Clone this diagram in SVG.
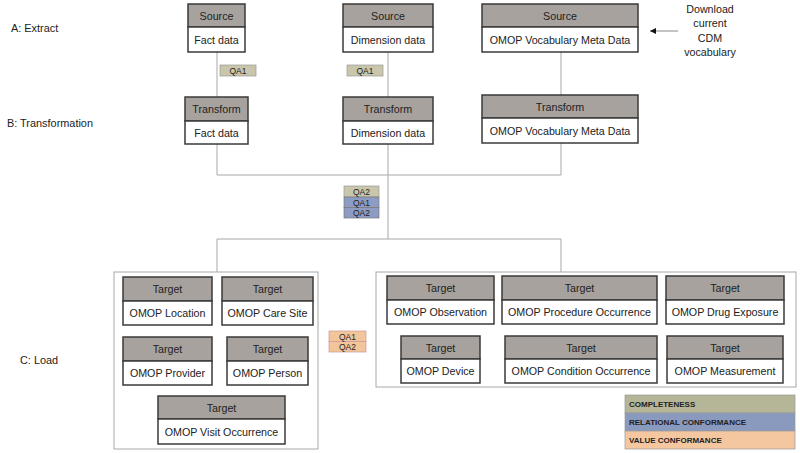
<svg xmlns="http://www.w3.org/2000/svg" width="800" height="453" viewBox="0 0 800 453">
<style>
text{font-family:"Liberation Sans",Arial,sans-serif;fill:#222;}
.t{font-size:10.7px;text-anchor:middle;}
.lbl{font-size:10.9px;}
.hd{fill:#A7A29E;stroke:#3a3a3a;stroke-width:1.5;}
.bd{fill:#fff;stroke:#3a3a3a;stroke-width:1.5;}
.grp{fill:#fff;stroke:#a8a8a8;stroke-width:1;}
.ln{fill:none;stroke:#a8a8a8;stroke-width:1;}
.qa{font-size:8.5px;text-anchor:middle;}
.kh{fill:#C9C6AB;stroke:#999;stroke-width:0.7;}
.bl{fill:#8D9CC3;stroke:#777;stroke-width:0.7;}
.or{fill:#F3C59B;stroke:#c99;stroke-width:0.7;}
.lg{font-size:8px;font-weight:bold;}
</style>
<defs>
<marker id="ah" viewBox="0 0 10 10" refX="10" refY="5" markerWidth="8" markerHeight="6" orient="auto" markerUnits="userSpaceOnUse">
<path d="M0,0 L10,5 L0,10 z" fill="#111"/>
</marker>
</defs>
<rect width="800" height="453" fill="#fff"/>

<g id="stage-labels">
<text class="lbl" x="11" y="32">A: Extract</text>
<text class="lbl" x="7" y="127">B: Transformation</text>
<text class="lbl" x="20" y="364">C: Load</text>
</g>

<g id="groups">
<rect class="grp" x="114" y="272" width="204" height="177"/>
<rect class="grp" x="376" y="272" width="420" height="115"/>
</g>

<g id="connectors">
<path class="ln" d="M217,52 V97 M388,52 V97 M561,52 V95"/>
<path class="ln" d="M217,144 V175 H561 V143 M388,144 V175 M388,175 V239 M217,272 V239 H561 V272"/>
<path d="M678,31 H650" stroke="#888" stroke-width="1" marker-end="url(#ah)"/>
</g>

<g id="download-note">
<text class="t" x="710" y="13">Download</text>
<text class="t" x="710" y="27">current</text>
<text class="t" x="710" y="42">CDM</text>
<text class="t" x="710" y="56">vocabulary</text>
</g>

<g id="src-fact">
<rect class="hd" x="188" y="4" width="57" height="23"/>
<rect class="bd" x="188" y="27" width="57" height="25"/>
<text class="t" x="216.5" y="19.5">Source</text>
<text class="t" x="216.5" y="43.5">Fact data</text>
</g>
<g id="src-dim">
<rect class="hd" x="343" y="4" width="90" height="23"/>
<rect class="bd" x="343" y="27" width="90" height="25"/>
<text class="t" x="388" y="19.5">Source</text>
<text class="t" x="388" y="43.5">Dimension data</text>
</g>
<g id="src-omop">
<rect class="hd" x="482" y="4" width="156" height="23"/>
<rect class="bd" x="482" y="27" width="156" height="25"/>
<text class="t" x="560" y="19.5">Source</text>
<text class="t" x="560" y="43.5">OMOP Vocabulary Meta Data</text>
</g>

<g id="qa1-fact">
<rect class="kh" x="220" y="65" width="36" height="11"/>
<text class="qa" x="238" y="74">QA1</text>
</g>
<g id="qa1-dim">
<rect class="kh" x="347" y="65" width="36" height="11"/>
<text class="qa" x="365" y="74">QA1</text>
</g>

<g id="tr-fact">
<rect class="hd" x="185" y="97" width="63" height="24"/>
<rect class="bd" x="185" y="121" width="63" height="23"/>
<text class="t" x="216.5" y="112.5">Transform</text>
<text class="t" x="216.5" y="136.5">Fact data</text>
</g>
<g id="tr-dim">
<rect class="hd" x="343" y="97" width="90" height="24"/>
<rect class="bd" x="343" y="121" width="90" height="23"/>
<text class="t" x="388" y="112.5">Transform</text>
<text class="t" x="388" y="136.5">Dimension data</text>
</g>
<g id="tr-omop">
<rect class="hd" x="482" y="95" width="156" height="23"/>
<rect class="bd" x="482" y="118" width="156" height="25"/>
<text class="t" x="560" y="110.5">Transform</text>
<text class="t" x="560" y="134.5">OMOP Vocabulary Meta Data</text>
</g>

<g id="qa-stack">
<rect class="kh" x="344" y="186" width="35" height="11"/>
<rect class="bl" x="344" y="197" width="35" height="10.5"/>
<rect class="bl" x="344" y="207.5" width="35" height="10.5"/>
<text class="qa" x="361.5" y="195">QA2</text>
<text class="qa" x="361.5" y="205.5">QA1</text>
<text class="qa" x="361.5" y="216">QA2</text>
</g>

<g id="qa-load">
<rect class="or" x="329" y="331" width="37" height="10.5"/>
<rect class="or" x="329" y="341.5" width="37" height="10.5"/>
<text class="qa" x="347.5" y="339.5">QA1</text>
<text class="qa" x="347.5" y="350">QA2</text>
</g>

<g id="t-location">
<rect class="hd" x="123" y="277" width="89" height="24"/>
<rect class="bd" x="123" y="301" width="89" height="24"/>
<text class="t" x="167.5" y="292.5">Target</text>
<text class="t" x="167.5" y="316.5">OMOP Location</text>
</g>
<g id="t-caresite">
<rect class="hd" x="222" y="277" width="91" height="24"/>
<rect class="bd" x="222" y="301" width="91" height="24"/>
<text class="t" x="267.5" y="292.5">Target</text>
<text class="t" x="267.5" y="316.5">OMOP Care Site</text>
</g>
<g id="t-provider">
<rect class="hd" x="123" y="337" width="89" height="24"/>
<rect class="bd" x="123" y="361" width="89" height="24"/>
<text class="t" x="167.5" y="352.5">Target</text>
<text class="t" x="167.5" y="376.5">OMOP Provider</text>
</g>
<g id="t-person">
<rect class="hd" x="227" y="337" width="81" height="24"/>
<rect class="bd" x="227" y="361" width="81" height="24"/>
<text class="t" x="267.5" y="352.5">Target</text>
<text class="t" x="267.5" y="376.5">OMOP Person</text>
</g>
<g id="t-visit">
<rect class="hd" x="158" y="396" width="127" height="23"/>
<rect class="bd" x="158" y="419" width="127" height="25"/>
<text class="t" x="221.5" y="411.5">Target</text>
<text class="t" x="221.5" y="435.5">OMOP Visit Occurrence</text>
</g>

<g id="t-observation">
<rect class="hd" x="387" y="276" width="107" height="24"/>
<rect class="bd" x="387" y="300" width="107" height="24"/>
<text class="t" x="440.5" y="291.5">Target</text>
<text class="t" x="440.5" y="315.5">OMOP Observation</text>
</g>
<g id="t-procedure">
<rect class="hd" x="502" y="276" width="155" height="24"/>
<rect class="bd" x="502" y="300" width="155" height="24"/>
<text class="t" x="579.5" y="291.5">Target</text>
<text class="t" x="579.5" y="315.5">OMOP Procedure Occurrence</text>
</g>
<g id="t-drug">
<rect class="hd" x="666" y="276" width="118" height="24"/>
<rect class="bd" x="666" y="300" width="118" height="24"/>
<text class="t" x="725" y="291.5">Target</text>
<text class="t" x="725" y="315.5">OMOP Drug Exposure</text>
</g>
<g id="t-device">
<rect class="hd" x="401" y="336" width="79" height="23"/>
<rect class="bd" x="401" y="359" width="79" height="24"/>
<text class="t" x="440.5" y="351.5">Target</text>
<text class="t" x="440.5" y="374.5">OMOP Device</text>
</g>
<g id="t-condition">
<rect class="hd" x="505" y="336" width="152" height="23"/>
<rect class="bd" x="505" y="359" width="152" height="24"/>
<text class="t" x="581" y="351.5">Target</text>
<text class="t" x="581" y="374.5">OMOP Condition Occurrence</text>
</g>
<g id="t-measurement">
<rect class="hd" x="667" y="336" width="116" height="23"/>
<rect class="bd" x="667" y="359" width="116" height="24"/>
<text class="t" x="725" y="351.5">Target</text>
<text class="t" x="725" y="374.5">OMOP Measurement</text>
</g>

<g id="legend">
<rect x="625" y="395" width="170" height="18" fill="#B5B698" stroke="#999" stroke-width="0.7"/>
<rect x="625" y="413" width="170" height="18" fill="#8A9ABF" stroke="#999" stroke-width="0.7"/>
<rect x="625" y="431" width="170" height="18" fill="#F4C7A1" stroke="#999" stroke-width="0.7"/>
<text class="lg" x="629" y="407">COMPLETENESS</text>
<text class="lg" x="629" y="425">RELATIONAL CONFORMANCE</text>
<text class="lg" x="629" y="443">VALUE CONFORMANCE</text>
</g>
</svg>
